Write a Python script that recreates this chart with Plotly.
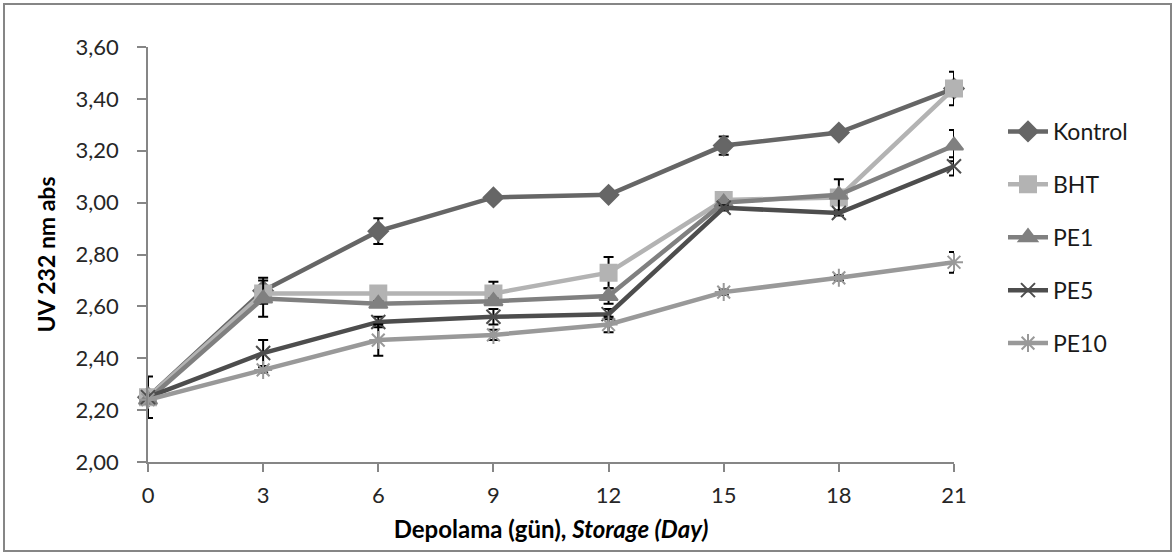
import plotly.graph_objects as go

days = [0, 3, 6, 9, 12, 15, 18, 21]
series_names = ["Kontrol", "BHT", "PE1", "PE5", "PE10"]
kontrol = [2.25, 2.66, 2.89, 3.02, 3.03, 3.22, 3.27, 3.44]
kontrol_err = [0.08, 0.05, 0.05, 0.01, 0.01, 0.035, 0.01, 0.01]
bht = [2.25, 2.65, 2.65, 2.65, 2.73, 3.01, 3.02, 3.44]
bht_err = [0.0, 0.02, 0.01, 0.045, 0.06, 0.02, 0.01, 0.065]
pe1 = [2.24, 2.63, 2.61, 2.62, 2.64, 3.00, 3.03, 3.22]
pe1_err = [0.0, 0.07, 0.01, 0.01, 0.03, 0.01, 0.06, 0.06]
pe5 = [2.25, 2.42, 2.54, 2.56, 2.57, 2.98, 2.96, 3.14]
pe5_err = [0.0, 0.05, 0.02, 0.03, 0.02, 0.01, 0.01, 0.035]
pe10 = [2.24, 2.355, 2.47, 2.49, 2.53, 2.655, 2.71, 2.77]
pe10_err = [0.0, 0.01, 0.06, 0.02, 0.03, 0.01, 0.01, 0.04]

values = [kontrol, bht, pe1, pe5, pe10]
errors = [kontrol_err, bht_err, pe1_err, pe5_err, pe10_err]
colors = ["#666666", "#b3b3b3", "#808080", "#4d4d4d", "#999999"]
symbols = ["diamond", "square", "triangle-up", "x-thin-open", "asterisk-open"]
msizes = [15, 16, 16, 14, 15]

FONT = "Lato"
fig = go.Figure()
for i, name in enumerate(series_names):
    fig.add_trace(go.Scatter(
        x=days, y=values[i], name=name, mode="lines+markers",
        legendgroup=name,
        line=dict(color=colors[i], width=4.5),
        marker=dict(symbol=symbols[i], size=msizes[i], color=colors[i],
                    line=dict(color=colors[i], width=2)),
        error_y=dict(type="data", array=errors[i], visible=True,
                     color="#000000", thickness=2, width=5),
        cliponaxis=False,
    ))

W, H = 1175, 555
L, R, T, B = 148, 954, 47, 462
pw, ph = R - L, B - T

def px(x):
    return (x - L) / pw

def py(y):
    return (B - y) / ph

fig.update_layout(
    width=W, height=H,
    margin=dict(l=L, r=W - R, t=T, b=H - B, pad=0),
    paper_bgcolor="white", plot_bgcolor="white",
    separators=",.",
    font=dict(family=FONT, size=22, color="#262626"),
    showlegend=True,
    legend=dict(x=px(1003), y=py(110), xanchor="left", yanchor="top",
                tracegroupgap=20, font=dict(size=23, color="#1a1a1a"),
                itemwidth=40, bgcolor="rgba(0,0,0,0)"),
    xaxis=dict(range=[0, 21], tickvals=days, ticktext=[str(d) for d in days],
               showgrid=False, zeroline=False, showline=True,
               linecolor="#868686", linewidth=1.5,
               ticks="outside", ticklen=8, tickcolor="#868686", tickwidth=1.5,
               ticklabelstandoff=5,
               tickfont=dict(size=22, color="#262626"),
               title=dict(text="<b>Depolama (gün), <i>Storage (Day)</i></b>",
                          font=dict(size=24, color="#000000"), standoff=14)),
    yaxis=dict(range=[2.0, 3.6], dtick=0.2, tick0=2.0, tickformat=".2f",
               showgrid=False, zeroline=False, showline=True,
               linecolor="#868686", linewidth=1.5,
               ticks="outside", ticklen=9, tickcolor="#868686", tickwidth=1.5,
               ticklabelstandoff=14,
               tickfont=dict(size=22, color="#262626"),
               title=dict(text="<b>UV 232 nm abs</b>",
                          font=dict(size=23, color="#000000"), standoff=14)),
    shapes=[dict(type="rect", xref="paper", yref="paper",
                 x0=px(4), x1=px(1171), y0=py(551), y1=py(4),
                 line=dict(color="#868686", width=2), fillcolor="rgba(0,0,0,0)",
                 layer="below")],
)

fig.write_html("out.html", config={"displayModeBar": False},
               post_script="document.body.style.margin='0';")
